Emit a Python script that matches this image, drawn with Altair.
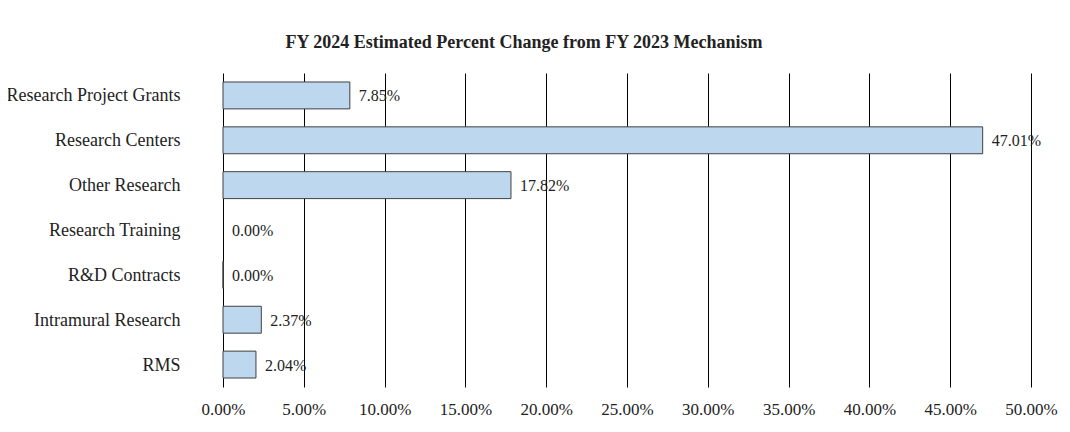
import altair as alt
import pandas as pd

categories = ["Research Project Grants", "Research Centers", "Other Research",
              "Research Training", "R&D Contracts", "Intramural Research", "RMS"]
values = [7.85, 47.01, 17.82, 0.00, 0.004, 2.37, 2.04]
x_ticks = [0, 5, 10, 15, 20, 25, 30, 35, 40, 45, 50]

df = pd.DataFrame({"cat": categories, "val": values})
df["label"] = df["val"].map(lambda v: f"{v:.2f}%")

FONT = "Liberation Serif"

x_axis = alt.Axis(values=x_ticks, labelExpr="format(datum.value, '.2f') + '%'",
                  title=None, domain=False, ticks=False, grid=True,
                  gridColor="#000000", gridWidth=1, gridOpacity=1,
                  labelFont=FONT, labelFontSize=17, labelColor="#222222",
                  labelFlush=False, labelPadding=14)
y_axis = alt.Axis(title=None, domain=False, ticks=False, grid=False,
                  labelFont=FONT, labelFontSize=18, labelColor="#222222",
                  labelPadding=43, labelLimit=300, labelOffset=1)
x_scale = alt.Scale(domain=[0, 50], nice=False)
y_scale = alt.Scale(paddingInner=0.4, paddingOuter=0.2)

x = alt.X("val:Q", scale=x_scale, axis=x_axis)
y = alt.Y("cat:N", sort=categories, scale=y_scale, axis=y_axis)

bars = alt.Chart(df).mark_bar(fill="#BDD7EE", stroke="#404040", strokeWidth=1).encode(
    x=x, y=y,
    strokeOpacity=alt.condition("datum.val > 0", alt.value(1), alt.value(0)))
text = alt.Chart(df).mark_text(align="left", baseline="middle", dx=9, dy=1, font=FONT,
                               fontSize=16, color="#222222").encode(
    x=x, y=y, text="label:N")

chart = (bars + text).properties(
    width=808, height=314,
    background="white",
    title=alt.Title("FY 2024 Estimated Percent Change from FY 2023 Mechanism",
                    font=FONT, fontSize=18, fontWeight="bold", color="#222222",
                    anchor="middle", dx=-103, offset=21),
    autosize=alt.AutoSizeParams(type="none"),
    padding={"left": 215, "top": 65, "right": 31, "bottom": 30},
).configure_view(stroke=None, strokeWidth=0)

chart.save("out.html", embed_options={"renderer": "svg", "actions": False})
